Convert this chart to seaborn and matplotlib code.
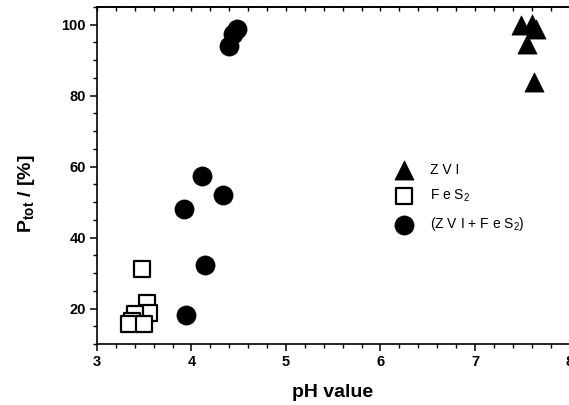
import matplotlib
matplotlib.use("Agg")
import matplotlib.pyplot as plt
import seaborn as sns
import pandas as pd
from matplotlib.ticker import MultipleLocator

# Data
zvi_ph = [7.49, 7.60, 7.65, 7.55, 7.62]
zvi_p = [100.0, 100.3, 98.9, 94.6, 83.9]

fes2_ph = [3.48, 3.53, 3.55, 3.40, 3.37, 3.34, 3.50]
fes2_p = [31.2, 21.5, 18.8, 18.5, 16.6, 15.5, 15.7]

mix_ph = [4.48, 4.44, 4.40, 4.11, 4.33, 3.92, 4.14, 3.94]
mix_p = [98.9, 97.4, 93.9, 57.3, 52.1, 48.0, 32.4, 18.2]

labels = ["Z V I", r"F e S$_{\mathrm{2}}$", r"(Z V I + F e S$_{\mathrm{2}}$)"]

sns.set_theme(style="white")
plt.rcParams["font.family"] = ["Liberation Sans", "DejaVu Sans"]
plt.rcParams["mathtext.fontset"] = "custom"
plt.rcParams["mathtext.rm"] = "Liberation Sans"
plt.rcParams["mathtext.bf"] = "Liberation Sans:bold"
plt.rcParams["mathtext.it"] = "Liberation Sans:italic"
for key in ["text.color", "axes.labelcolor", "xtick.color", "ytick.color", "axes.edgecolor"]:
    plt.rcParams[key] = "black"

fig = plt.figure(figsize=(5.69, 4.05), dpi=100)
ax = fig.add_axes([97 / 569, 1 - 344 / 405, 472.5 / 569, 337 / 405])

df_zvi = pd.DataFrame({"pH": zvi_ph, "P": zvi_p})
df_fes = pd.DataFrame({"pH": fes2_ph, "P": fes2_p})
df_mix = pd.DataFrame({"pH": mix_ph, "P": mix_p})

sns.scatterplot(data=df_zvi, x="pH", y="P", marker="^", s=190, color="black",
                edgecolor="black", linewidth=0.5, ax=ax, label=labels[0], zorder=3)
sns.scatterplot(data=df_fes, x="pH", y="P", marker="s", s=120, facecolor="white",
                edgecolor="black", linewidth=1.6, ax=ax, label=labels[1], zorder=3)
sns.scatterplot(data=df_mix, x="pH", y="P", marker="o", s=190, color="black",
                edgecolor="black", linewidth=0.5, ax=ax, label=labels[2], zorder=3)

ax.set_xlim(3, 8)
ax.set_ylim(10, 105)
ax.xaxis.set_major_locator(MultipleLocator(1))
ax.xaxis.set_minor_locator(MultipleLocator(0.2))
ax.yaxis.set_major_locator(MultipleLocator(20))
ax.yaxis.set_minor_locator(MultipleLocator(5))

for side in ["left", "bottom", "top"]:
    ax.spines[side].set_visible(True)
    ax.spines[side].set_color("black")
    ax.spines[side].set_linewidth(1.2)
ax.spines["right"].set_visible(False)

ax.tick_params(axis="both", which="major", direction="out", length=5, width=1.1,
               color="black", labelcolor="black", labelsize=10.5, pad=3,
               bottom=True, left=True)
ax.tick_params(axis="both", which="minor", direction="out", length=3, width=1.0,
               color="black", bottom=True, left=True)
for lab in ax.get_xticklabels() + ax.get_yticklabels():
    lab.set_fontweight("bold")

sec = ax.secondary_xaxis("top")
sec.xaxis.set_major_locator(MultipleLocator(0.2))
sec.tick_params(axis="x", which="major", direction="in", length=3, width=1.0,
                labeltop=False, color="black")
sec.spines["top"].set_linewidth(1.2)
sec.spines["top"].set_color("black")

ax.set_xlabel("pH value", fontsize=14, fontweight="bold", color="black")
ax.xaxis.set_label_coords((333 - 97) / 472.5, -(384 - 344) / 337)
ax.set_ylabel(r"$\mathbf{P_{tot}}$ / [%]", fontsize=14, fontweight="bold", color="black")
ax.yaxis.set_label_coords((37 - 97) / 472.5, (344 - 194) / 337)

leg = ax.legend(loc="upper left", bbox_to_anchor=(0.593, 0.575), frameon=False,
                fontsize=10, handletextpad=0.9, labelspacing=0.8, markerscale=1.0)
for t in leg.get_texts():
    t.set_color("black")

fig.savefig("out.png", dpi=100)
